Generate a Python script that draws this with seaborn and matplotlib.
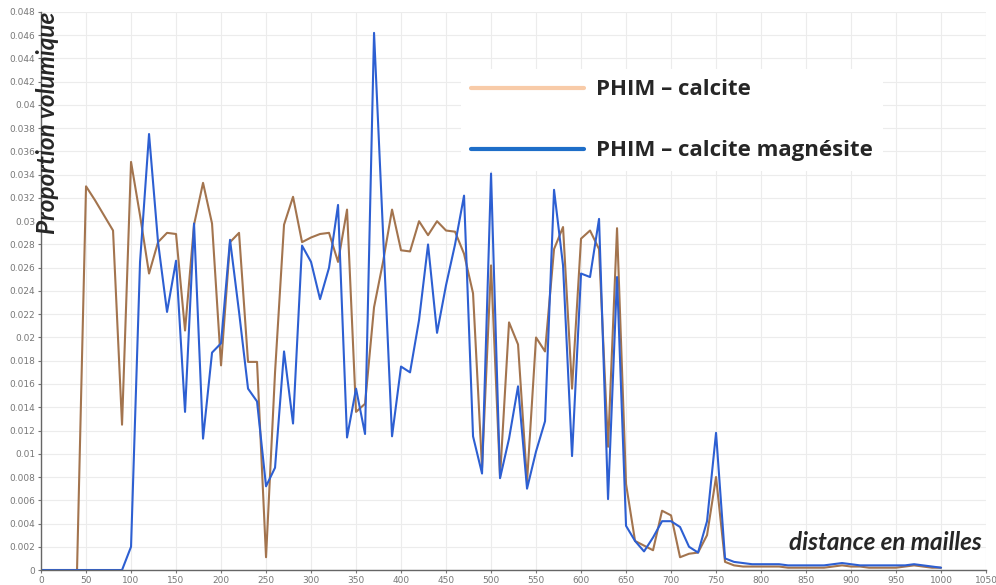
import pandas as pd
import seaborn as sns
import matplotlib.pyplot as plt
from matplotlib.lines import Line2D
from matplotlib.ticker import MultipleLocator, FuncFormatter

# distance axis (mesh index), one point every 10 cells
distance = list(range(0, 1010, 10))

# PHIM - calcite
phim_calcite = [
    0, 0, 0, 0, 0,
    0.0330, 0.0318, 0.0305, 0.0292, 0.0125,
    0.0351, 0.0305, 0.0255, 0.0282, 0.0290,
    0.0289, 0.0206, 0.0297, 0.0333, 0.0298,
    0.0176, 0.0282, 0.0290, 0.0179, 0.0179,
    0.0011, 0.0170, 0.0297, 0.0321, 0.0282,
    0.0286, 0.0289, 0.0290, 0.0265, 0.0310,
    0.0136, 0.0143, 0.0226, 0.0265, 0.0310,
    0.0275, 0.0274, 0.0300, 0.0288, 0.0300,
    0.0292, 0.0291, 0.0272, 0.0238, 0.0088,
    0.0262, 0.0080, 0.0213, 0.0194, 0.0076,
    0.0200, 0.0188, 0.0276, 0.0295, 0.0156,
    0.0285, 0.0292, 0.0276, 0.0106, 0.0294,
    0.0074, 0.0025, 0.0021, 0.0017, 0.0051,
    0.0047, 0.0011, 0.0014, 0.0015, 0.0030,
    0.0080, 0.0007, 0.0004, 0.0003, 0.0003,
    0.0003, 0.0003, 0.0003, 0.0002, 0.0002,
    0.0002, 0.0002, 0.0002, 0.0003, 0.0004,
    0.0003, 0.0003, 0.0002, 0.0002, 0.0002,
    0.0002, 0.0003, 0.0004, 0.0003, 0.0002,
    0.0002,
]

# PHIM - calcite magnesite
phim_calcite_mag = [
    0, 0, 0, 0, 0,
    0, 0, 0, 0, 0,
    0.0020, 0.0265, 0.0375, 0.0282, 0.0222,
    0.0266, 0.0136, 0.0298, 0.0113, 0.0187,
    0.0195, 0.0284, 0.0222, 0.0156, 0.0145,
    0.0072, 0.0088, 0.0188, 0.0126, 0.0279,
    0.0265, 0.0233, 0.0260, 0.0314, 0.0114,
    0.0156, 0.0117, 0.0462, 0.0290, 0.0115,
    0.0175, 0.0170, 0.0215, 0.0280, 0.0204,
    0.0245, 0.0280, 0.0322, 0.0115, 0.0083,
    0.0341, 0.0079, 0.0113, 0.0158, 0.0070,
    0.0102, 0.0128, 0.0327, 0.0262, 0.0098,
    0.0255, 0.0252, 0.0302, 0.0061, 0.0252,
    0.0038, 0.0025, 0.0016, 0.0028, 0.0042,
    0.0042, 0.0037, 0.0020, 0.0015, 0.0042,
    0.0118, 0.0010, 0.0007, 0.0006, 0.0005,
    0.0005, 0.0005, 0.0005, 0.0004, 0.0004,
    0.0004, 0.0004, 0.0004, 0.0005, 0.0006,
    0.0005, 0.0004, 0.0004, 0.0004, 0.0004,
    0.0004, 0.0004, 0.0005, 0.0004, 0.0003,
    0.0002,
]

labels = ['PHIM – calcite', 'PHIM – calcite magnésite']
legend_colors = ['#f8cba8', '#1e6ec8']
line_colors = ['#a3744e', '#2d5fd2']

df = pd.DataFrame({
    'distance': distance,
    labels[0]: phim_calcite,
    labels[1]: phim_calcite_mag,
})

sns.set_theme(style='white')
plt.rcParams['font.family'] = ['DejaVu Sans']

fig = plt.figure(figsize=(9.96, 5.85), dpi=100)
ax = fig.add_axes([0.0412, 0.0256, 0.9488, 0.954])

for lab, col in zip(labels, line_colors):
    sns.lineplot(data=df, x='distance', y=lab, color=col, linewidth=1.5, ax=ax, legend=False)

ax.set_xlim(0, 1050)
ax.set_ylim(0, 0.048)
ax.xaxis.set_major_locator(MultipleLocator(50))
ax.yaxis.set_major_locator(MultipleLocator(0.002))
ax.yaxis.set_major_formatter(FuncFormatter(lambda v, p: f'{v:.3f}'.rstrip('0').rstrip('.')))
ax.grid(True, color='#ececec', linewidth=0.8)
ax.set_axisbelow(True)
ax.tick_params(axis='both', labelsize=6.5, colors='#777777', length=2.5, width=0.8,
               direction='out', bottom=True, left=True, pad=1.5)
for s in ['top', 'right']:
    ax.spines[s].set_visible(False)
for s in ['left', 'bottom']:
    ax.spines[s].set_color('#666666')
    ax.spines[s].set_linewidth(1.0)
ax.set_xlabel('')
ax.set_ylabel('')

ax.text(0.0066, 1.0, 'Proportion volumique', transform=ax.transAxes, rotation=90,
        ha='center', va='top', fontsize=17.5, fontweight='bold', fontstyle='italic',
        family=['Lato', 'DejaVu Sans'])
ax.text(0.893, 0.05, 'distance en mailles', transform=ax.transAxes,
        ha='center', va='center', fontsize=17.5, fontweight='bold', fontstyle='italic',
        family=['Lato', 'DejaVu Sans'])

handles = [Line2D([], [], color=c, linewidth=3) for c in legend_colors]
leg = ax.legend(handles, labels, loc='upper left', bbox_to_anchor=(0.444, 0.897),
                borderaxespad=0, borderpad=0.45, handlelength=5.1, handletextpad=0.55,
                labelspacing=1.8, frameon=True, facecolor='white', edgecolor='none',
                framealpha=1, fancybox=False,
                prop={'family': ['Open Sans', 'DejaVu Sans'], 'weight': 'bold', 'size': 16})
# keep the white legend box above the grid but under the data lines
leg.set_zorder(1.5)

plt.savefig('out.png', dpi=100)
